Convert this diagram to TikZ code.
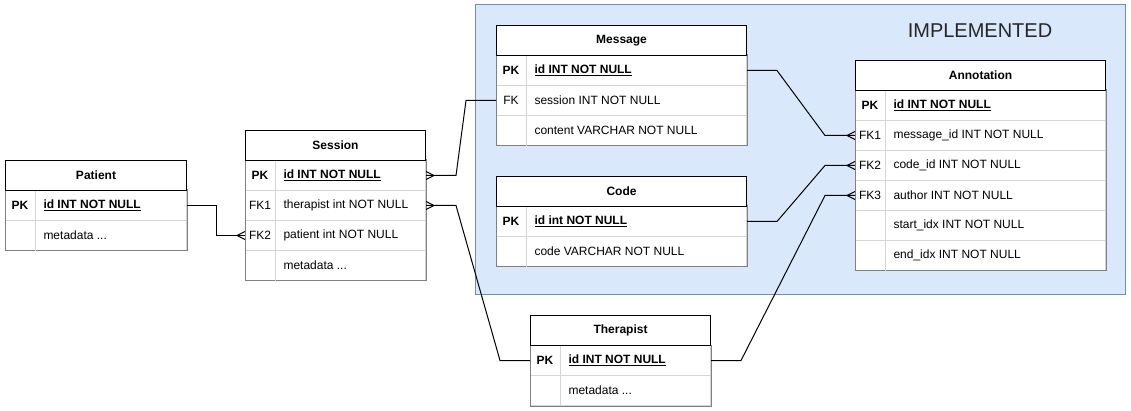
\documentclass[tikz,border=0pt]{standalone}
\usepackage{fontspec}
\setmainfont{Liberation Sans}
\definecolor{implfill}{HTML}{DAE8FC}
\definecolor{impldraw}{HTML}{6C8EBF}
\definecolor{sepgray}{HTML}{D4D4D4}
\definecolor{boxgray}{HTML}{808080}
\newcommand{\pkfield}[1]{\textbf{\underline{#1}}}
\newcommand{\etc}{...}
\newcommand{\crowfoot}[2]{\draw[conn] ([yshift=4pt]#1) -- ([xshift=#2pt]#1) -- ([yshift=-4pt]#1);}
\tikzset{
  head/.style={draw=black, fill=white, anchor=north west, minimum height=30pt, inner sep=0pt, font=\fontsize{12}{14}\selectfont\bfseries},
  tblrow/.style={draw=sepgray, fill=white, anchor=north west, minimum height=30pt, inner sep=0pt},
  keytxt/.style={anchor=center, inner sep=0pt, font=\fontsize{12}{14}\selectfont},
  fieldtxt/.style={anchor=west, inner sep=0pt, font=\fontsize{12}{14}\selectfont},
  conn/.style={draw=black, line width=1pt},
}
\begin{document}
\begin{tikzpicture}[x=1pt, y=-1pt, line width=1pt]
  \useasboundingbox (0,0) rectangle (1131,411);
  % implemented area
  \draw[impldraw, fill=implfill] (475,5) rectangle (1125,295);
  \node[font=\fontsize{20}{24}\selectfont, text=black!85] (impl) at (980,31) {IMPLEMENTED};

  % Patient
  \foreach \r/\k/\f [count=\i from 0] in {pk/\textbf{PK}/\pkfield{id INT NOT NULL}, meta//metadata \etc} {
    \node[tblrow, minimum width=181pt] (patient-\r) at (5,190+30*\i) {};
    \node[keytxt] (patient-\r-k) at ([xshift=15pt]patient-\r.west) {\k};
    \node[fieldtxt] (patient-\r-f) at ([xshift=38pt]patient-\r.west) {\f};
  }
  \draw[boxgray] (patient-pk.north west) rectangle (patient-meta.south east);
  \draw[sepgray] ([xshift=30pt]patient-pk.north west) -- ([xshift=30pt]patient-meta.south west);
  \node[head, minimum width=181pt] (patient) at (5,160) {Patient};

  % Session
  \foreach \r/\k/\f [count=\i from 0] in {pk/\textbf{PK}/\pkfield{id INT NOT NULL}, fk1/FK1/therapist int NOT NULL,
      fk2/FK2/patient int NOT NULL, meta//metadata \etc} {
    \node[tblrow, minimum width=180pt] (session-\r) at (245,160+30*\i) {};
    \node[keytxt] (session-\r-k) at ([xshift=15pt]session-\r.west) {\k};
    \node[fieldtxt] (session-\r-f) at ([xshift=38pt]session-\r.west) {\f};
  }
  \draw[boxgray] (session-pk.north west) rectangle (session-meta.south east);
  \draw[sepgray] ([xshift=30pt]session-pk.north west) -- ([xshift=30pt]session-meta.south west);
  \node[head, minimum width=180pt] (session) at (245,130) {Session};

  % Message
  \foreach \r/\k/\f [count=\i from 0] in {pk/\textbf{PK}/\pkfield{id INT NOT NULL}, fk/FK/session INT NOT NULL,
      content//content VARCHAR NOT NULL} {
    \node[tblrow, minimum width=250pt] (message-\r) at (496,55+30*\i) {};
    \node[keytxt] (message-\r-k) at ([xshift=15pt]message-\r.west) {\k};
    \node[fieldtxt] (message-\r-f) at ([xshift=38pt]message-\r.west) {\f};
  }
  \draw[boxgray] (message-pk.north west) rectangle (message-content.south east);
  \draw[sepgray] ([xshift=30pt]message-pk.north west) -- ([xshift=30pt]message-content.south west);
  \node[head, minimum width=250pt] (message) at (496,25) {Message};

  % Code
  \foreach \r/\k/\f [count=\i from 0] in {pk/\textbf{PK}/\pkfield{id int NOT NULL}, code//code VARCHAR NOT NULL} {
    \node[tblrow, minimum width=250pt] (code-\r) at (496,206+30*\i) {};
    \node[keytxt] (code-\r-k) at ([xshift=15pt]code-\r.west) {\k};
    \node[fieldtxt] (code-\r-f) at ([xshift=38pt]code-\r.west) {\f};
  }
  \draw[boxgray] (code-pk.north west) rectangle (code-code.south east);
  \draw[sepgray] ([xshift=30pt]code-pk.north west) -- ([xshift=30pt]code-code.south west);
  \node[head, minimum width=250pt] (code) at (496,176) {Code};

  % Annotation
  \foreach \r/\k/\f [count=\i from 0] in {pk/\textbf{PK}/\pkfield{id INT NOT NULL}, fk1/FK1/message\_id INT NOT NULL,
      fk2/FK2/code\_id INT NOT NULL, fk3/FK3/author INT NOT NULL, start//start\_idx INT NOT NULL,
      end//end\_idx INT NOT NULL} {
    \node[tblrow, minimum width=250pt] (annotation-\r) at (855,90+30*\i) {};
    \node[keytxt] (annotation-\r-k) at ([xshift=15pt]annotation-\r.west) {\k};
    \node[fieldtxt] (annotation-\r-f) at ([xshift=38pt]annotation-\r.west) {\f};
  }
  \draw[boxgray] (annotation-pk.north west) rectangle (annotation-end.south east);
  \draw[sepgray] ([xshift=30pt]annotation-pk.north west) -- ([xshift=30pt]annotation-end.south west);
  \node[head, minimum width=250pt] (annotation) at (855,60) {Annotation};

  % Therapist
  \foreach \r/\k/\f [count=\i from 0] in {pk/\textbf{PK}/\pkfield{id INT NOT NULL}, meta//metadata \etc} {
    \node[tblrow, minimum width=180pt] (therapist-\r) at (530,345+30*\i) {};
    \node[keytxt] (therapist-\r-k) at ([xshift=15pt]therapist-\r.west) {\k};
    \node[fieldtxt] (therapist-\r-f) at ([xshift=38pt]therapist-\r.west) {\f};
  }
  \draw[boxgray] (therapist-pk.north west) rectangle (therapist-meta.south east);
  \draw[sepgray] ([xshift=30pt]therapist-pk.north west) -- ([xshift=30pt]therapist-meta.south west);
  \node[head, minimum width=180pt] (therapist) at (530,315) {Therapist};

  % relations
  \draw[conn] (patient-pk.east) -- ++(29.5,0) |- (session-fk2.west);
  \draw[conn] (session-pk.east) -- ++(30,0) -- ([xshift=-30pt]message-fk.west) -- (message-fk.west);
  \draw[conn] (session-fk1.east) -- ++(30,0) -- ([xshift=-30pt]therapist-pk.west) -- (therapist-pk.west);
  \draw[conn] (message-pk.east) -- ++(30,0) -- ([xshift=-30pt]annotation-fk1.west) -- (annotation-fk1.west);
  \draw[conn] (code-pk.east) -- ++(30,0) -- ([xshift=-30pt]annotation-fk2.west) -- (annotation-fk2.west);
  \draw[conn] (therapist-pk.east) -- ++(30,0) -- ([xshift=-30pt]annotation-fk3.west) -- (annotation-fk3.west);
  \crowfoot{session-fk2.west}{-8}
  \crowfoot{session-pk.east}{8}
  \crowfoot{session-fk1.east}{8}
  \crowfoot{annotation-fk1.west}{-8}
  \crowfoot{annotation-fk2.west}{-8}
  \crowfoot{annotation-fk3.west}{-8}
\end{tikzpicture}
\end{document}
